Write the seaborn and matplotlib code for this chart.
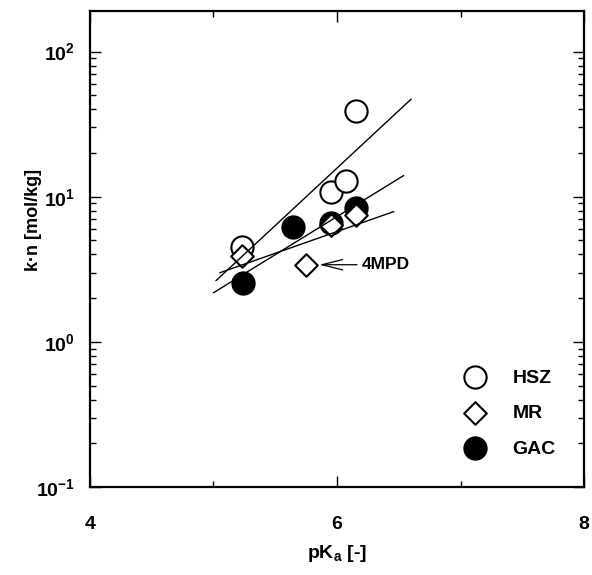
import numpy as np
import pandas as pd
import matplotlib
matplotlib.use("Agg")
import matplotlib.pyplot as plt
import seaborn as sns
from matplotlib.ticker import LogLocator, FixedLocator, NullFormatter

# ---- data ----
hsz_pka = [5.23, 5.95, 6.07, 6.15]
hsz_kn = [4.5, 10.8, 12.8, 39.0]

mr_pka = [5.23, 5.95, 6.15]
mr_kn = [3.9, 6.4, 7.5]

gac_pka = [5.24, 5.64, 5.95, 6.15]
gac_kn = [2.55, 6.2, 6.6, 8.4]

mpd_pka = [5.75]
mpd_kn = [3.4]

# fitted lines (end points)
fit_hsz_x = [5.02, 6.60]
fit_hsz_y = [2.64, 47.0]
fit_gac_x = [5.0, 6.54]
fit_gac_y = [2.18, 14.0]
fit_mr_x = [5.05, 6.46]
fit_mr_y = [2.99, 7.9]

series_labels = ["HSZ", "MR", "GAC"]
x_label = "pK$_\\mathregular{a}$ [-]"
y_label = "k\u00b7n [mol/kg]"
annot_label = "4MPD"
xticks_major = [4, 6, 8]
yticks_major = [0.1, 1, 10, 100]
yticklabels = ["10$^{-1}$", "10$^{0}$", "10$^{1}$", "10$^{2}$"]

sns.set_style("ticks")
plt.rcParams["font.family"] = ["Liberation Sans", "DejaVu Sans"]
plt.rcParams["font.weight"] = "bold"
plt.rcParams["text.color"] = "black"
plt.rcParams["axes.labelcolor"] = "black"
plt.rcParams["xtick.color"] = "black"
plt.rcParams["ytick.color"] = "black"
plt.rcParams["mathtext.fontset"] = "custom"
plt.rcParams["mathtext.rm"] = "Liberation Sans:bold"
plt.rcParams["mathtext.it"] = "Liberation Sans:bold"
plt.rcParams["mathtext.bf"] = "Liberation Sans:bold"
plt.rcParams["mathtext.default"] = "rm"

fig = plt.figure(figsize=(5.92, 5.75), dpi=100)
ax = fig.add_axes([0.152, 0.153, 0.8345, 0.828])

ms_circle = 16.0 ** 2
ms_diam = 11.5 ** 2
lw_m = 1.5

sns.scatterplot(x=gac_pka, y=gac_kn, marker="o", s=ms_circle, color="black",
                edgecolor="black", linewidth=lw_m, ax=ax, label=series_labels[2], zorder=2)
sns.scatterplot(x=hsz_pka, y=hsz_kn, marker="o", s=ms_circle, facecolor="white",
                edgecolor="black", linewidth=lw_m, ax=ax, label=series_labels[0], zorder=3)
sns.scatterplot(x=mr_pka, y=mr_kn, marker="D", s=ms_diam, facecolor="white",
                edgecolor="black", linewidth=lw_m, ax=ax, label=series_labels[1], zorder=4)
sns.scatterplot(x=mpd_pka, y=mpd_kn, marker="D", s=ms_diam, facecolor="white",
                edgecolor="black", linewidth=lw_m, ax=ax, zorder=4)

for fx, fy in [(fit_hsz_x, fit_hsz_y), (fit_gac_x, fit_gac_y), (fit_mr_x, fit_mr_y)]:
    sns.lineplot(x=fx, y=fy, color="black", linewidth=1.0, ax=ax, legend=False, zorder=5)

ax.annotate(annot_label, xy=(mpd_pka[0], mpd_kn[0]), xytext=(40, 0),
            textcoords="offset points", ha="left", va="center",
            fontsize=12.5, fontweight="bold", color="black",
            arrowprops=dict(arrowstyle="->,head_length=1.2,head_width=0.3",
                            color="black", lw=0.9, shrinkA=1, shrinkB=9.5))

ax.set_yscale("log")
ax.set_xlim(4, 8)
ax.set_ylim(0.1, 10 ** 2.28)

ax.xaxis.set_major_locator(FixedLocator(xticks_major))
ax.xaxis.set_minor_locator(FixedLocator([5, 7]))
ax.set_xticklabels([str(v) for v in xticks_major])
ax.yaxis.set_major_locator(FixedLocator(yticks_major))
ax.set_yticklabels(yticklabels)
ax.yaxis.set_minor_locator(LogLocator(base=10, subs=np.arange(2, 10)))
ax.yaxis.set_minor_formatter(NullFormatter())

ax.tick_params(axis="both", which="both", direction="in", top=True, right=True,
               width=1.0, colors="black")
ax.tick_params(axis="both", which="major", length=8)
ax.tick_params(axis="both", which="minor", length=4)
ax.tick_params(axis="y", which="major", pad=11, labelsize=14)
ax.tick_params(axis="x", which="major", pad=21, labelsize=14)
for lab in ax.get_xticklabels() + ax.get_yticklabels():
    lab.set_fontweight("bold")

for sp in ax.spines.values():
    sp.set_linewidth(1.6)
    sp.set_color("black")

ax.set_xlabel(x_label, fontsize=14, fontweight="bold", labelpad=7)
ax.set_ylabel(y_label, fontsize=13, fontweight="bold")
ax.yaxis.set_label_coords(-0.097, 0.561)

handles, labels = ax.get_legend_handles_labels()
order = [labels.index(l) for l in series_labels]
ax.legend([handles[i] for i in order], [labels[i] for i in order],
          loc="upper left", bbox_to_anchor=(0.759, 0.248), frameon=False,
          handlelength=1.0, handletextpad=1.45, labelspacing=0.92,
          borderpad=0, borderaxespad=0, prop={"weight": "bold", "size": 14})

fig.savefig("out.png", dpi=100)
